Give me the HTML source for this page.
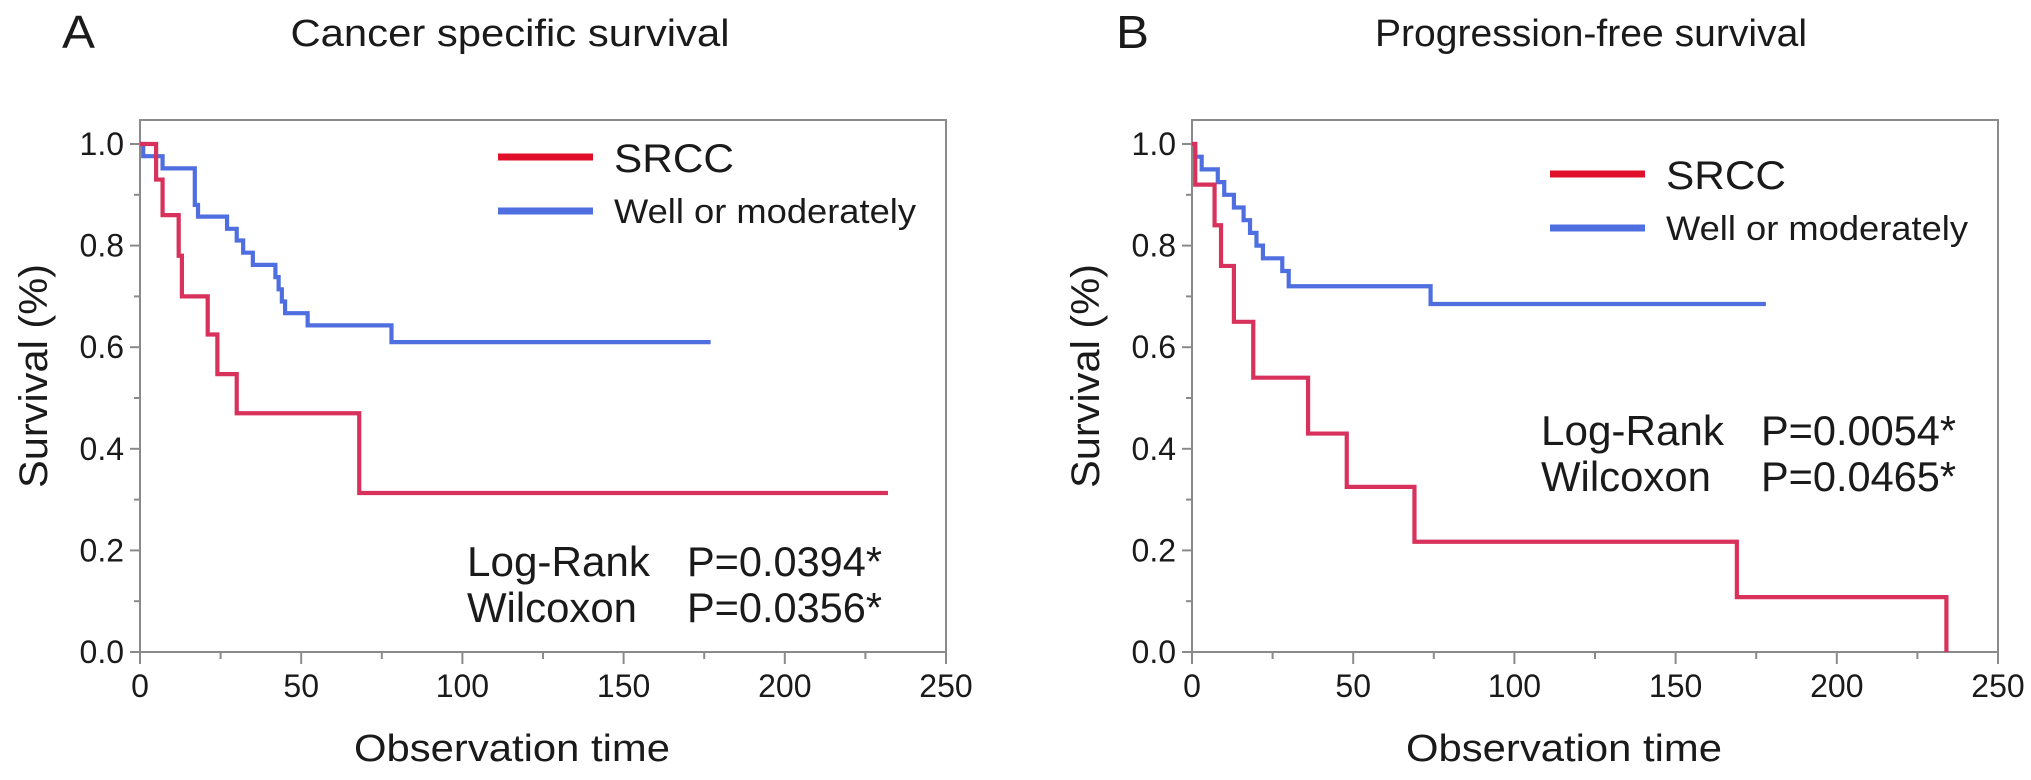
<!DOCTYPE html>
<html><head><meta charset="utf-8"><style>
html,body{margin:0;padding:0;background:#fff}
svg{display:block}
text{font-family:"Liberation Sans",Arial,sans-serif;fill:#1a1a1a}
</style></head><body>
<svg id="chart" width="2031" height="780" viewBox="0 0 2031 780"></svg>
<script>
// Panel A: cancer specific survival
const aRedTimes=[0,5,7,12,13,21,24,30,68,232];
const aRedSurv=[1.0,0.93,0.86,0.78,0.70,0.625,0.547,0.47,0.313,0.313];
const aBlueTimes=[0,1,7,17,18,27,30,32,35,42,43,44,45,52,78,177];
const aBlueSurv=[1.0,0.976,0.952,0.88,0.857,0.833,0.81,0.786,0.762,0.738,0.714,0.69,0.667,0.643,0.61,0.61];
// Panel B: progression-free survival
const bRedTimes=[0,1,7,9,13,19,36,48,69,169,234,234];
const bRedSurv=[1.0,0.92,0.84,0.76,0.65,0.54,0.43,0.325,0.217,0.108,0.0,0.0];
const bBlueTimes=[0,1,3,8,10,13,16,18,20,22,28,30,74,178];
const bBlueSurv=[1.0,0.975,0.95,0.925,0.9,0.875,0.85,0.825,0.8,0.775,0.75,0.72,0.685,0.685];
const xTicks=[0,50,100,150,200,250];
const yTicks=[0.0,0.2,0.4,0.6,0.8,1.0];
const yTickLabels=["0.0","0.2","0.4","0.6","0.8","1.0"];

const NS="http://www.w3.org/2000/svg";
const svg=document.getElementById('chart');
function mk(tag,attrs,parent){const e=document.createElementNS(NS,tag);for(const k in attrs)e.setAttribute(k,attrs[k]);(parent||svg).appendChild(e);return e;}

function panel(cfg){
  const g=mk('g',{});
  
  
  const x0=cfg.x0,pxU=3.224,yB=652,yT=144;
  const X=t=>x0+t*pxU, Y=s=>yB-s*(yB-yT);
  const frame=mk('rect',{x:x0,y:120,width:X(250)-x0,height:yB-120,fill:'none',stroke:'#8a8a8a','stroke-width':2},g);
  
  
  for(let v=0;v<=1.0001;v+=0.1){const major=Math.round(v*10)%2===0;
    const tk=mk('line',{x1:x0-(major?10:6),x2:x0,y1:Y(v),y2:Y(v),stroke:'#8a8a8a','stroke-width':2},g);
    
    }
  for(let t=0;t<=250;t+=25){const major=t%50===0;
    const tk=mk('line',{x1:X(t),x2:X(t),y1:yB,y2:yB+(major?12:7),stroke:'#8a8a8a','stroke-width':2},g);
    
    }
  yTicks.forEach((v,i)=>{const t=mk('text',{x:x0-16,y:Y(v)+11,'font-size':32,'text-anchor':'end'},g);t.textContent=yTickLabels[i];
    
    });
  xTicks.forEach(v=>{const t=mk('text',{x:X(v),y:697,'font-size':32,'text-anchor':'middle'},g);t.textContent=String(v);
    
    });
  function step(times,surv,color,name){
    let d='M'+X(times[0])+' '+Y(surv[0]);
    for(let i=1;i<times.length;i++){d+=' H'+X(times[i])+' V'+Y(surv[i]);}
    const p=mk('path',{d:d,fill:'none',stroke:color,'stroke-width':4.2},g);
    
    
  }
  step(cfg.blueT,cfg.blueS,'#4f6fe0','well-or-moderately-curve');
  step(cfg.redT,cfg.redS,'#d8325c','srcc-curve');
  const lab=mk('text',{x:cfg.letterX,y:48,'font-size':46,textLength:33,lengthAdjust:'spacingAndGlyphs'},g);lab.textContent=cfg.letter;
  
  
  const ti=mk('text',{x:cfg.titleX,y:46,'font-size':38,'text-anchor':'middle',textLength:cfg.titleW,lengthAdjust:'spacingAndGlyphs'},g);ti.textContent=cfg.title;
  
  
  const yl=mk('text',{x:0,y:0,'font-size':40,'text-anchor':'middle',textLength:224,lengthAdjust:'spacingAndGlyphs',transform:`translate(${x0-93},376) rotate(-90)`},g);yl.textContent='Survival (%)';
  
  
  const xl=mk('text',{x:x0+372,y:761,'font-size':38,'text-anchor':'middle',textLength:316,lengthAdjust:'spacingAndGlyphs'},g);xl.textContent='Observation time';
  
  
  const lg=mk('g',{},g);
  
  
  const ly=cfg.legY;
  const l1=mk('line',{x1:x0+358,x2:x0+453,y1:ly,y2:ly,stroke:'#e0102a','stroke-width':7},lg);
  
  
  const t1=mk('text',{x:x0+474,y:ly+15,'font-size':40,textLength:120,lengthAdjust:'spacingAndGlyphs'},lg);t1.textContent='SRCC';
  
  
  const l2=mk('line',{x1:x0+358,x2:x0+453,y1:ly+54,y2:ly+54,stroke:'#4f6fe0','stroke-width':7},lg);
  
  
  const t2=mk('text',{x:x0+474,y:ly+66,'font-size':34,textLength:302,lengthAdjust:'spacingAndGlyphs'},lg);t2.textContent='Well or moderately';
  
  
  const sx=x0+cfg.statDx, sy=cfg.statY;
  [['Log-Rank',cfg.p1,0,183],['Wilcoxon',cfg.p2,46,170]].forEach(r=>{
    const a=mk('text',{x:sx,y:sy+r[2],'font-size':42,textLength:r[3],lengthAdjust:'spacingAndGlyphs'},g);a.textContent=r[0];
    
    
    const b=mk('text',{x:sx+220,y:sy+r[2],'font-size':42,textLength:195,lengthAdjust:'spacingAndGlyphs'},g);b.textContent=r[1];
    
    
  });
}
panel({name:'panel-a-cancer-specific',x0:140,letter:'A',letterX:62,title:'Cancer specific survival',titleX:510,titleW:439,
  redT:aRedTimes,redS:aRedSurv,blueT:aBlueTimes,blueS:aBlueSurv,legY:157,statDx:327,statY:576,p1:'P=0.0394*',p2:'P=0.0356*'});
panel({name:'panel-b-progression-free',x0:1192,letter:'B',letterX:1116,title:'Progression-free survival',titleX:1591,titleW:432,
  redT:bRedTimes,redS:bRedSurv,blueT:bBlueTimes,blueS:bBlueSurv,legY:174,statDx:349,statY:445,p1:'P=0.0054*',p2:'P=0.0465*'});
</script>
</body></html>
